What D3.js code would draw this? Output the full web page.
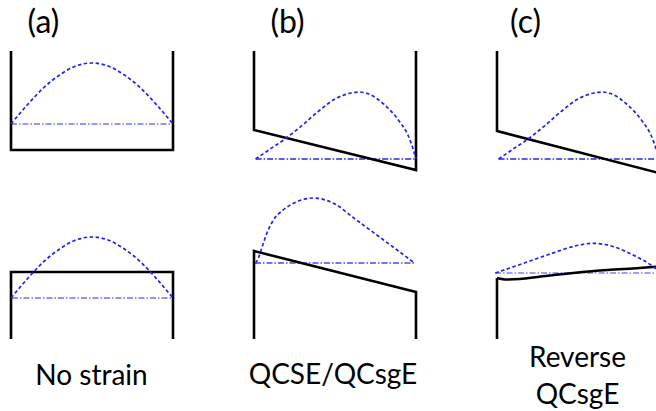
<!DOCTYPE html>
<html>
<head>
<meta charset="utf-8">
<script src="https://cdn.jsdelivr.net/npm/d3@7"></script>
<style>
  body { margin: 0; background: #fff; }
  text { font-family: Lato, "Open Sans", sans-serif; fill: #000; }
</style>
</head>
<body>
<div id="chart"></div>
<script>
// panel labels and captions
const panelLabels = ['(a)', '(b)', '(c)'];
const captions = [['No strain'], ['QCSE/QCsgE'], ['Reverse', 'QCsgE']];

// well profiles [position across well, energy]
const wellTopA = [[0, 11.9], [0, 2.0], [1, 2.0], [1, 11.9]];
const wellTopB = [[0, 11.9], [0, 4.0], [1, 0.0], [1, 11.9]];
const wellTopC = [[0, 11.9], [0, 3.9], [1, -0.3], [1, 11.9]];
const wellBotA = [[0, 0.1], [0, 6.8], [1, 6.8], [1, 0.1]];
const wellBotB = [[0, 0.1], [0, 8.9], [1, 4.8], [1, 0.1]];
const wellBotC = [[0, 0.1], [0, 6.2]];
const bendBotC = [[0, 6.2], [0.06, 6.05], [0.14, 6.1], [0.27, 6.35], [0.47, 6.7], [0.68, 7.0], [0.88, 7.2], [1, 7.35]];
const wallBotC = [[1, 7.35], [1, 0.1]];

// confined levels [from, to, energy]
const levelTopA = [0, 1.006, 4.6];
const levelTopB = [0.01, 0.99, 1.1];
const levelTopC = [0.01, 1, 1.1];
const levelBotA = [0.006, 1, 4.2];
const levelBotB = [0.006, 1, 7.7];
const levelBotC = [-0.012, 1, 6.7];

// wavefunctions [position, energy]
const psiTopA = [[0, 4.6], [0.1, 6.5], [0.2, 8.2], [0.3, 9.5], [0.4, 10.4], [0.5, 10.7], [0.6, 10.4], [0.7, 9.5], [0.8, 8.2], [0.9, 6.5], [1, 4.6]];
const psiTopB = [[0.01, 1.1], [0.1, 2.1], [0.2, 3.2], [0.3, 4.5], [0.4, 5.9], [0.5, 7.1], [0.6, 7.7], [0.65, 7.8], [0.7, 7.65], [0.8, 6.6], [0.9, 4.8], [0.95, 3.5], [0.98, 2.2], [1, 1.1]];
const psiTopC = [[0.01, 1.1], [0.1, 2.1], [0.2, 3.2], [0.3, 4.5], [0.4, 5.9], [0.5, 7.1], [0.6, 7.7], [0.65, 7.8], [0.7, 7.65], [0.8, 6.6], [0.9, 4.8], [0.95, 3.5], [0.98, 2.2], [1, 1.1]];
const psiBotA = [[0, 4.2], [0.1, 6.1], [0.2, 7.8], [0.3, 9.1], [0.4, 10.0], [0.5, 10.3], [0.6, 10.0], [0.7, 9.1], [0.8, 7.8], [0.9, 6.1], [1, 4.2]];
const psiBotB = [[0.01, 7.7], [0.03, 8.3], [0.05, 9.3], [0.08, 10.7], [0.12, 12.0], [0.18, 13.0], [0.26, 13.8], [0.37, 14.2], [0.45, 13.95], [0.52, 13.4], [0.6, 12.4], [0.7, 11.2], [0.8, 10.0], [0.9, 8.8], [0.99, 7.7]];
const psiBotC = [[-0.01, 6.7], [0.16, 7.65], [0.31, 8.5], [0.51, 9.5], [0.59, 9.67], [0.72, 9.33], [0.84, 8.5], [0.965, 7.33], [1, 6.9]];

const width = 656, height = 411;

const svg = d3.select('#chart')
    .append('svg')
    .attr('width', width)
    .attr('height', height);

// column origins and well width
const colX = [11, 254, 497];
const wellW = 162;

const xScales = colX.map(x0 => d3.scaleLinear().domain([0, 1]).range([x0, x0 + wellW]));
const yTop = d3.scaleLinear().domain([0, 10]).range([170, 70]);
const yBot = d3.scaleLinear().domain([0, 10]).range([340, 240]);

const panels = [
    { col: 0, y: yTop, well: [wellTopA], level: levelTopA, psi: psiTopA, levelColor: '#7474f4' },
    { col: 1, y: yTop, well: [wellTopB], level: levelTopB, psi: psiTopB, levelColor: '#2a2ad2' },
    { col: 2, y: yTop, well: [wellTopC], level: levelTopC, psi: psiTopC, levelColor: '#2a2ad2' },
    { col: 0, y: yBot, well: [wellBotA], level: levelBotA, psi: psiBotA, levelColor: '#6e6ef4' },
    { col: 1, y: yBot, well: [wellBotB], level: levelBotB, psi: psiBotB, levelColor: '#4a4ae6' },
    { col: 2, y: yBot, well: [wellBotC, wallBotC], bend: bendBotC, level: levelBotC, psi: psiBotC, levelColor: '#8080f8' }
];

panels.forEach(p => {
    const x = xScales[p.col], y = p.y;
    const g = svg.append('g');

    const straight = d3.line()
        .x(d => x(d[0]))
        .y(d => y(d[1]));

    const smooth = d3.line()
        .x(d => x(d[0]))
        .y(d => y(d[1]))
        .curve(d3.curveMonotoneX);

    // energy level, dash-dot
    g.append('line')
        .attr('x1', x(p.level[0]))
        .attr('x2', x(p.level[1]))
        .attr('y1', y(p.level[2]))
        .attr('y2', y(p.level[2]))
        .attr('stroke', p.levelColor)
        .attr('stroke-width', 1.3)
        .attr('stroke-dasharray', '6,2,1.5,2');

    // band edge
    g.selectAll('path.well')
        .data(p.well)
        .enter()
        .append('path')
        .attr('class', 'well')
        .attr('d', straight)
        .attr('fill', 'none')
        .attr('stroke', '#000')
        .attr('stroke-width', 2.6)
        .attr('stroke-linejoin', 'miter');

    if (p.bend) {
        g.append('path')
            .attr('d', smooth(p.bend))
            .attr('fill', 'none')
            .attr('stroke', '#000')
            .attr('stroke-width', 2.6);
    }

    // wavefunction, dashed
    g.append('path')
        .attr('d', smooth(p.psi))
        .attr('fill', 'none')
        .attr('stroke', '#2222f0')
        .attr('stroke-width', 1.7)
        .attr('stroke-dasharray', '3.5,2.5');
});

// (a) (b) (c)
const labelX = [43.5, 287.5, 525.5];
svg.selectAll('text.panel')
    .data(panelLabels)
    .enter()
    .append('text')
    .attr('class', 'panel')
    .attr('x', (d, i) => labelX[i])
    .attr('y', 33)
    .attr('text-anchor', 'middle')
    .style('font-size', '32px')
    .text(d => d);

// captions under each column
const captionX = [91.5, 333, 577.5];
const captionY = [[385], [384], [367, 404]];
captions.forEach((lines, i) => {
    lines.forEach((t, j) => {
        svg.append('text')
            .attr('x', captionX[i])
            .attr('y', captionY[i][j])
            .attr('text-anchor', 'middle')
            .style('font-size', '28px')
            .text(t);
    });
});
</script>
</body>
</html>
